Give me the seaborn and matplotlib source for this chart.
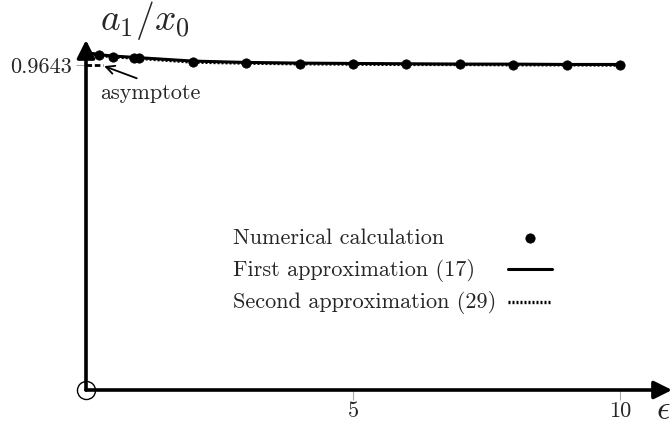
import matplotlib
matplotlib.use('Agg')
import matplotlib.pyplot as plt
import seaborn as sns
import pandas as pd

# values
eps_num = [0.25, 0.5, 0.9, 1.0, 2, 3, 4, 5, 6, 7, 8, 9, 10]
a_num = [0.993, 0.989, 0.985, 0.984, 0.973, 0.970, 0.968, 0.967, 0.966, 0.966, 0.965, 0.965, 0.964]

eps_line = [0, 0.25, 0.5, 1, 2, 3, 4, 5, 6, 7, 8, 9, 10]
a_first = [1.002, 0.995, 0.991, 0.986, 0.976, 0.972, 0.970, 0.969, 0.968, 0.967, 0.967, 0.966, 0.966]
a_second = [1.000, 0.993, 0.989, 0.984, 0.973, 0.970, 0.968, 0.967, 0.966, 0.966, 0.965, 0.965, 0.964]

asymptote = 0.9643
x_ticks = [5, 10]
legend_labels = ['Numerical calculation', 'First approximation (17)', 'Second approximation (29)']

sns.set_theme(style='white')
plt.rcParams['font.family'] = ['cmr10', 'DejaVu Serif']
plt.rcParams['mathtext.fontset'] = 'cm'
plt.rcParams['axes.formatter.use_mathtext'] = True

W, H = 672, 423
fig = plt.figure(figsize=(6.72, 4.23), dpi=100)
ax = fig.add_axes([86/W, 33/H, 586/W, 350/H])
xmax = 586 / 53.4
ymax = 350 / 337.0
ax.set_xlim(0, xmax)
ax.set_ylim(0, ymax)
for s in ax.spines.values():
    s.set_visible(False)
ax.patch.set_alpha(0)

df_num = pd.DataFrame({'eps': eps_num, 'a': a_num})
df_line = pd.DataFrame({'eps': eps_line, 'first': a_first, 'second': a_second})

sns.lineplot(data=df_line, x='eps', y='second', ax=ax, color='black', lw=2.4,
             linestyle=(0, (0.6, 0.6)), label=legend_labels[2], zorder=3)
sns.lineplot(data=df_line, x='eps', y='first', ax=ax, color='black', lw=2.2,
             label=legend_labels[1], zorder=4)
sns.scatterplot(data=df_num, x='eps', y='a', ax=ax, color='black', s=45,
                edgecolor='black', label=legend_labels[0], zorder=5)

# asymptote segment
ax.plot([0, 0.32], [asymptote, asymptote], color='black', lw=2, ls=(0, (2, 1)), zorder=2)

# axes with arrows
arrow = dict(arrowstyle='-|>,head_length=0.9,head_width=0.45', lw=2.6, color='black',
             shrinkA=0, shrinkB=0)
ax.annotate('', xy=(xmax, 0), xytext=(0, 0), annotation_clip=False, arrowprops=arrow)
ax.annotate('', xy=(0, ymax), xytext=(0, 0), annotation_clip=False, arrowprops=arrow)
ax.plot([0], [0], marker='o', ms=13, mfc='none', mec='black', mew=1.0, clip_on=False, zorder=6)

ax.set_xticks(x_ticks)
ax.set_xticklabels([str(t) for t in x_ticks])
ax.set_yticks([asymptote])
ax.set_yticklabels(['0.9643'])
ax.tick_params(axis='both', length=7, width=0.8, color='#aaaaaa', labelsize=16,
               direction='out')
ax.tick_params(axis='x', bottom=True, pad=1)
ax.tick_params(axis='y', left=True, pad=3)
ax.set_xlabel('')
ax.set_ylabel('')

fig.text(100/W, 1 - 20/H, r'$a_1/x_0$', fontsize=27, va='center', ha='left')
fig.text(656/W, 1 - 410/H, r'$\epsilon$', fontsize=24, va='center', ha='left')

# asymptote annotation
fig.text(150/W, 1 - 93/H, 'asymptote', fontsize=16, ha='center', va='center')
ax.annotate('', xy=(0.34, 0.961), xytext=(0.95, 0.925),
            arrowprops=dict(arrowstyle='->,head_length=0.5,head_width=0.25', lw=1.3,
                            color='black', shrinkA=0, shrinkB=0))

# legend: handles via matplotlib legend, labels left-aligned as text
handles, labels = ax.get_legend_handles_labels()
order = [2, 1, 0]
ax.legend([handles[i] for i in order], [' ', ' ', ' '],
          frameon=False, fontsize=16, handlelength=2.0, handletextpad=0,
          loc='upper left', bbox_to_anchor=(508/W, 1 - 228/H),
          bbox_transform=fig.transFigure, labelspacing=0.61, borderpad=0,
          borderaxespad=0)
for lab, yp in zip(legend_labels, [238, 270, 302]):
    fig.text(233/W, 1 - yp/H, lab, fontsize=16, ha='left', va='center')

fig.savefig('out.png', dpi=100)
